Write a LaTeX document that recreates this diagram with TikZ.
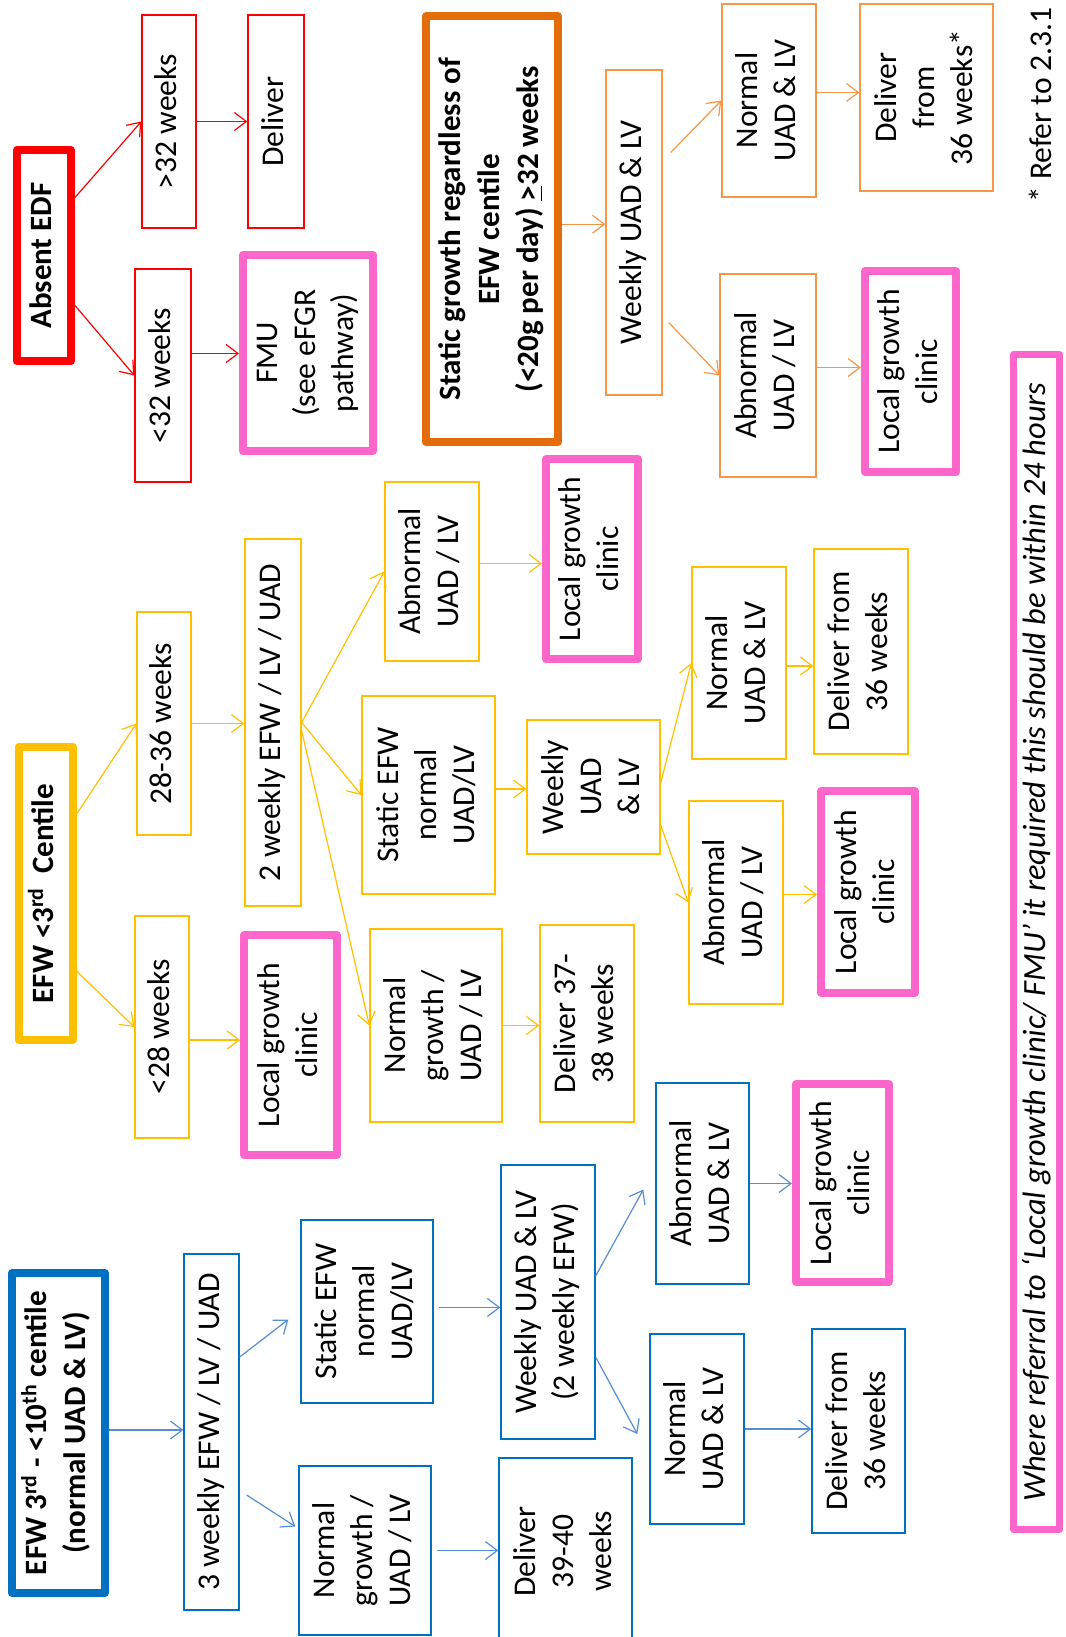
\documentclass[tikz,border=0pt]{standalone}
\usepackage{fontspec}
\setmainfont{Carlito}
\usepackage{graphicx}
\usetikzlibrary{arrows.meta}
\definecolor{edfred}{HTML}{FF0000}
\definecolor{statorange}{HTML}{E46C0A}
\definecolor{lineorange}{HTML}{F79646}
\definecolor{centyellow}{HTML}{FFC000}
\definecolor{clinicpink}{HTML}{FF66CC}
\definecolor{efwblue}{HTML}{0070C0}
\definecolor{arrowblue}{HTML}{558ED5}
\newcommand{\vtext}[1]{\rotatebox{90}{\begin{tabular}{@{}c@{}}#1\end{tabular}}}

\begin{document}
\begin{tikzpicture}[x=0.5pt,y=-0.5pt,>={Straight Barb[length=6pt,width=9pt]},
  plainbox/.style={draw=#1,line width=0.65pt,inner sep=0pt,font=\fontsize{15.8}{19}\selectfont},
  headbox/.style={draw=#1,line width=4pt,line join=round,inner sep=0pt,font=\fontsize{15.5}{19.5}\selectfont\bfseries},
  clinicbox/.style={draw=clinicpink,line width=4pt,line join=round,inner sep=0pt,font=\fontsize{15.8}{19}\selectfont},
  flow/.style={->,draw=#1,line width=0.6pt}]
  \fill[white] (0,0) rectangle (1065,1637);
  \useasboundingbox (0,0) rectangle (1065,1637);

  % absent EDF
  \node[headbox=edfred, minimum width=27.25pt, minimum height=105.5pt] (edf) at (43.75,255.5) {\vtext{Absent EDF}};
  \node[plainbox=edfred, minimum width=27pt, minimum height=106.5pt] (gt32) at (169,121.5) {\vtext{>32 weeks}};
  \node[plainbox=edfred, minimum width=28pt, minimum height=106.5pt] (deliv) at (276,121.5) {\vtext{Deliver}};
  \node[plainbox=edfred, minimum width=28pt, minimum height=106.5pt] (lt32) at (163,375.5) {\vtext{<32 weeks}};
  \node[clinicbox, minimum width=65pt, minimum height=98pt] (fmu) at (308,353) {\vtext{FMU\\(see eFGR\\pathway)}};

  % static growth
  \node[headbox=statorange, minimum width=66pt, minimum height=212.75pt] (stat) at (492,229.25) {\vtext{Static growth regardless of\\EFW centile\\(<20g per day) \underline{>}32 weeks}};
  \node[plainbox=lineorange, minimum width=28pt, minimum height=162.5pt] (owk) at (634,232.5) {\vtext{Weekly UAD \& LV}};
  \node[plainbox=lineorange, minimum width=47pt, minimum height=96.5pt] (onorm) at (769,100.5) {\vtext{Normal\\UAD \& LV}};
  \node[plainbox=lineorange, minimum width=66.5pt, minimum height=93.5pt] (odeliv) at (926.5,97.5) {\vtext{Deliver\\from\\36 weeks*}};
  \node[plainbox=lineorange, minimum width=48pt, minimum height=101.5pt] (oabn) at (768,375.5) {\vtext{Abnormal\\UAD / LV}};
  \node[clinicbox, minimum width=45.5pt, minimum height=100.5pt] (olgc) at (910.5,371.5) {\vtext{Local growth\\clinic}};
  \node[font=\fontsize{15.8}{19}\selectfont, inner sep=0pt] (refer) at (1040,105) {\rotatebox{90}{* Refer to 2.3.1}};
  \node[clinicbox, line width=3.5pt, minimum width=23pt, minimum height=587.5pt, font=\fontsize{16.2}{19}\selectfont\itshape] (note) at (1036.5,942) {\rotatebox{90}{Where referral to ‘Local growth clinic/ FMU’ it required this should be within 24 hours}};

  % EFW <3rd centile
  \node[headbox=centyellow, minimum width=27.2pt, minimum height=146.5pt] (ylw) at (45.8,893.5) {\vtext{EFW <3\textsuperscript{rd}\ \ Centile}};
  \node[plainbox=centyellow, minimum width=27pt, minimum height=111.5pt] (y2836) at (164,723.5) {\vtext{28-36 weeks}};
  \node[plainbox=centyellow, minimum width=27pt, minimum height=111pt] (ylt28) at (162,1027) {\vtext{<28 weeks}};
  \node[plainbox=centyellow, minimum width=28pt, minimum height=183.5pt] (y2wk) at (273,722.5) {\vtext{2 weekly EFW / LV / UAD}};
  \node[clinicbox, minimum width=46.5pt, minimum height=110pt] (ylgc1) at (290.5,1045) {\vtext{Local growth\\clinic}};
  \node[plainbox=centyellow, minimum width=47pt, minimum height=89.5pt] (yabn) at (432,571.5) {\vtext{Abnormal\\UAD / LV}};
  \node[clinicbox, minimum width=46pt, minimum height=100pt] (ylgc2) at (592,559) {\vtext{Local growth\\clinic}};
  \node[plainbox=centyellow, minimum width=66.5pt, minimum height=99pt] (ystat) at (428.5,795) {\vtext{Static EFW\\normal\\UAD/LV}};
  \node[plainbox=centyellow, minimum width=66.5pt, minimum height=67pt] (ywk) at (593.5,787) {\vtext{Weekly\\UAD\\\& LV}};
  \node[plainbox=centyellow, minimum width=66pt, minimum height=96.5pt] (ynormg) at (436,1025.5) {\vtext{Normal\\growth /\\UAD / LV}};
  \node[plainbox=centyellow, minimum width=47pt, minimum height=98.5pt] (ydel3738) at (587,1023.5) {\vtext{Deliver 37-\\38 weeks}};
  \node[plainbox=centyellow, minimum width=47pt, minimum height=96pt] (ynorm) at (739,663) {\vtext{Normal\\UAD \& LV}};
  \node[plainbox=centyellow, minimum width=47pt, minimum height=102.5pt] (ydel36) at (861,651.5) {\vtext{Deliver from\\36 weeks}};
  \node[plainbox=centyellow, minimum width=47pt, minimum height=101.5pt] (yabn2) at (736,902.5) {\vtext{Abnormal\\UAD / LV}};
  \node[clinicbox, minimum width=47pt, minimum height=101pt] (ylgc3) at (868,892) {\vtext{Local growth\\clinic}};

  % EFW 3rd - <10th centile
  \node[headbox=efwblue, minimum width=46.5pt, minimum height=160pt] (blu) at (58.5,1433) {\vtext{EFW 3\textsuperscript{rd} - <10\textsuperscript{th} centile\\(normal UAD \& LV)}};
  \node[plainbox=efwblue, minimum width=27.5pt, minimum height=178pt] (b3wk) at (211.5,1432) {\vtext{3 weekly EFW / LV / UAD}};
  \node[plainbox=efwblue, minimum width=66pt, minimum height=91.5pt] (bstat) at (367,1311.5) {\vtext{Static EFW\\normal\\UAD/LV}};
  \node[plainbox=efwblue, minimum width=66pt, minimum height=84.5pt] (bnormg) at (365,1550.5) {\vtext{Normal\\growth /\\UAD / LV}};
  \node[plainbox=efwblue, minimum width=47pt, minimum height=137pt] (bwk) at (548,1302) {\vtext{Weekly UAD \& LV\\(2 weekly EFW)}};
  \node[plainbox=efwblue, minimum width=66.5pt, minimum height=93.5pt] (bdel3940) at (565.5,1551.5) {\vtext{Deliver\\39-40\\weeks}};
  \node[plainbox=efwblue, minimum width=46.5pt, minimum height=100.5pt] (babn) at (702.5,1183.5) {\vtext{Abnormal\\UAD \& LV}};
  \node[clinicbox, minimum width=46.5pt, minimum height=99pt] (blgc) at (842.5,1183) {\vtext{Local growth\\clinic}};
  \node[plainbox=efwblue, minimum width=47pt, minimum height=95pt] (bnorm) at (697,1429) {\vtext{Normal\\UAD \& LV}};
  \node[plainbox=efwblue, minimum width=46.5pt, minimum height=102pt] (bdel36) at (858.5,1431) {\vtext{Deliver from\\36 weeks}};

  % red links
  \draw[flow=edfred] ([yshift=29pt]edf.east) -- (gt32.west);
  \draw[flow=edfred] ([yshift=-25pt]edf.east) -- (lt32.west);
  \draw[flow=edfred] (gt32.east) -- (gt32.east -| deliv.west);
  \draw[flow=edfred] ([yshift=11pt]lt32.east) -- ([yshift=11pt]lt32.east -| fmu.west);

  % orange links
  \draw[flow=lineorange] ([yshift=2.5pt]stat.east) -- ([yshift=2.5pt]stat.east -| owk.west);
  \draw[flow=lineorange] ([xshift=4pt,yshift=40pt]owk.east) -- (onorm.west);
  \draw[flow=lineorange] ([xshift=3pt,yshift=-45pt]owk.east) -- (oabn.west);
  \draw[flow=lineorange] ([yshift=4pt]onorm.east) -- ([yshift=4pt]onorm.east -| odeliv.west);
  \draw[flow=lineorange] ([yshift=4pt]oabn.east) -- ([yshift=4pt]oabn.east -| olgc.west);

  % yellow links
  \draw[flow=centyellow] ([yshift=40pt]ylw.east) -- (y2836.west);
  \draw[flow=centyellow] ([yshift=-39pt]ylw.east) -- (ylt28.west);
  \draw[flow=centyellow] (y2836.east) -- (y2836.east -| y2wk.west);
  \draw[flow=centyellow] ([yshift=-6.5pt]ylt28.east) -- ([yshift=-6.5pt]ylt28.east -| ylgc1.west);
  \draw[flow=centyellow] (y2wk.east) -- (yabn.west);
  \draw[flow=centyellow] (y2wk.east) -- (ystat.west);
  \draw[flow=centyellow] ([yshift=-4pt]y2wk.east) -- (ynormg.west);
  \draw[flow=centyellow] ([yshift=4pt]yabn.east) -- ([yshift=4pt]yabn.east -| ylgc2.west);
  \draw[flow=centyellow] ([yshift=3pt]ystat.east) -- ([yshift=3pt]ystat.east -| ywk.west);
  \draw[flow=centyellow] (ynormg.east) -- (ynormg.east -| ydel3738.west);
  \draw[flow=centyellow] ([yshift=2pt]ywk.east) -- (ynorm.west);
  \draw[flow=centyellow] ([yshift=-19pt]ywk.east) -- (yabn2.west);
  \draw[flow=centyellow] ([yshift=-1.5pt]ynorm.east) -- ([yshift=-1.5pt]ynorm.east -| ydel36.west);
  \draw[flow=centyellow] ([yshift=4pt]yabn2.east) -- ([yshift=4pt]yabn2.east -| ylgc3.west);

  % blue links
  \draw[flow=arrowblue] ([yshift=1.5pt]blu.east) -- ([yshift=1.5pt]blu.east -| b3wk.west);
  \draw[flow=arrowblue] ([yshift=37.5pt]b3wk.east) -- ([xshift=-6pt,yshift=-4pt]bstat.west);
  \draw[flow=arrowblue] ([xshift=3.5pt,yshift=-31.5pt]b3wk.east) -- ([xshift=-1.5pt,yshift=12pt]bnormg.west);
  \draw[flow=arrowblue] ([xshift=2.5pt,yshift=2pt]bstat.east) -- ([yshift=2pt]bstat.east -| bwk.west);
  \draw[flow=arrowblue] ([xshift=2.5pt]bnormg.east) -- (bnormg.east -| bdel3940.west);
  \draw[flow=arrowblue] ([yshift=13pt]bwk.east) -- ([xshift=-6pt,yshift=-3pt]babn.west);
  \draw[flow=arrowblue] ([yshift=-27.5pt]bwk.east) -- ([xshift=-6pt,yshift=-2.5pt]bnorm.west);
  \draw[flow=arrowblue] (babn.east) -- (babn.east -| blgc.west);
  \draw[flow=arrowblue] (bnorm.east) -- (bnorm.east -| bdel36.west);
\end{tikzpicture}
\end{document}
